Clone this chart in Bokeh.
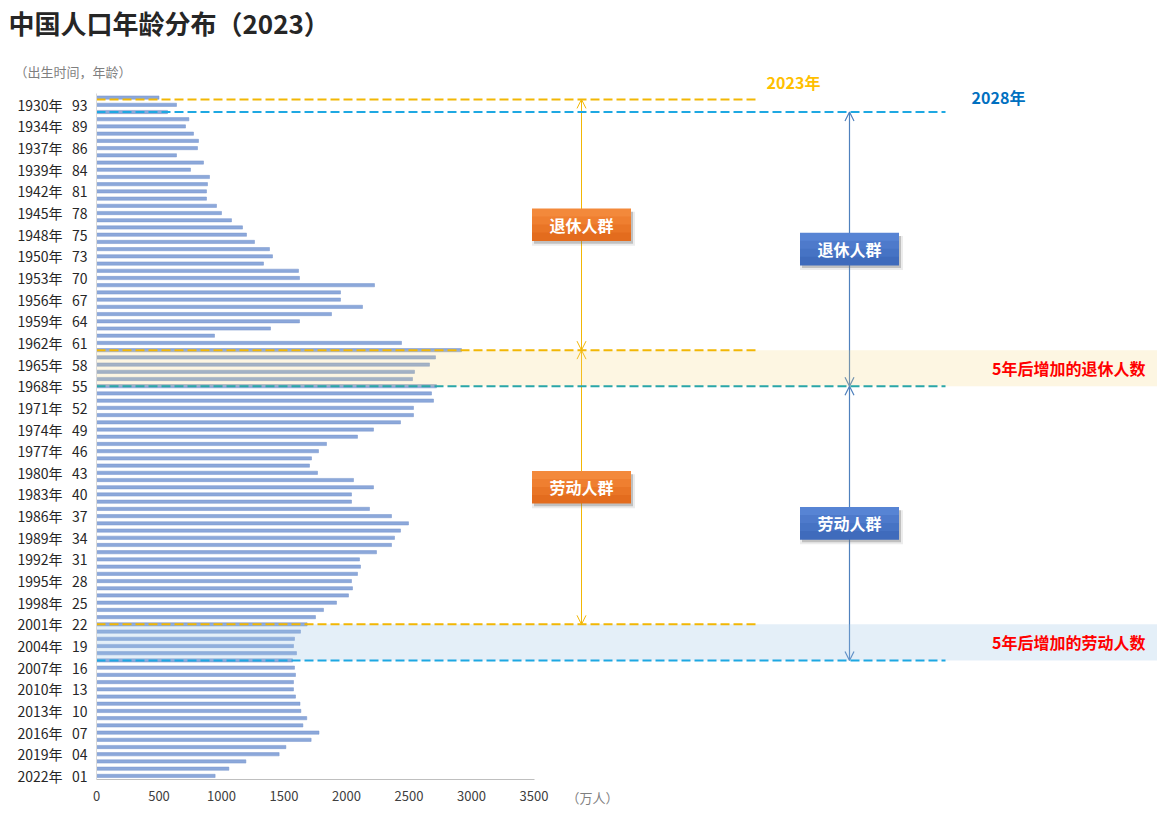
from bokeh.plotting import figure
from bokeh.models import Range1d, FixedTicker, Label, Arrow, OpenHead
from bokeh.embed import file_html
from bokeh.resources import INLINE

# ---------------- data (top bar = oldest cohort) ----------------
population = [
    500, 640, 568, 739, 712, 776, 816, 808, 640, 856,
    752, 904, 888, 880, 880, 960, 1000, 1080, 1168, 1200,
    1264, 1384, 1408, 1336, 1616, 1624, 2224, 1952, 1952, 2128,
    1880, 1624, 1392, 944, 2440, 2920, 2712, 2664, 2544, 2528,
    2720, 2680, 2696, 2536, 2536, 2432, 2216, 2088, 1840, 1776,
    1720, 1704, 1768, 2056, 2216, 2040, 2040, 2184, 2360, 2496,
    2432, 2384, 2360, 2240, 2104, 2112, 2088, 2040, 2048, 2016,
    1920, 1816, 1752, 1685, 1632, 1584, 1576, 1600, 1568, 1584,
    1592, 1576, 1576, 1592, 1628, 1635, 1682, 1651, 1780, 1717,
    1515, 1461, 1195, 1059, 949,
]
tick_years = [
    "1930年", "1934年", "1937年", "1939年", "1942年", "1945年", "1948年", "1950年",
    "1953年", "1956年", "1959年", "1962年", "1965年", "1968年", "1971年", "1974年",
    "1977年", "1980年", "1983年", "1986年", "1989年", "1992年", "1995年", "1998年",
    "2001年", "2004年", "2007年", "2010年", "2013年", "2016年", "2019年", "2022年",
]
tick_ages_text = [
    "93", "89", "86", "84", "81", "78", "75", "73", "70", "67", "64", "61", "58", "55", "52", "49",
    "46", "43", "40", "37", "34", "31", "28", "25", "22", "19", "16", "13", "10", "07", "04", "01",
]
x_ticks = [0, 500, 1000, 1500, 2000, 2500, 3000, 3500]

# age positions (bottom bar = 1)
ages = list(range(len(population), 0, -1))
tick_pos = list(range(94, 0, -3))

# group boundaries (age positions)
line_2023 = [94.75, 60, 22]
line_2028 = [93, 55, 17]

# ---------------- layout helpers ----------------
W, H = 1157, 830
AX_X = 96          # canvas px of value 0
AX_Y = 779         # canvas px of the x-axis line
UX = 8.0           # data units per px (x)
PY = 7.216         # px per data unit (y)


def dx(px):
    return (px - AX_X) * UX


def dy(py):
    return 0.5 + (AX_Y - py) / PY


FONT = "Noto Sans CJK SC"

p = figure(width=W, height=H, x_range=Range1d(dx(0), dx(W)), y_range=Range1d(dy(H), dy(0)),
           output_backend="svg", toolbar_location=None,
           min_border_left=0, min_border_right=0, min_border_top=0, min_border_bottom=0)
p.outline_line_color = None
p.xgrid.visible = False
p.ygrid.visible = False
p.background_fill_color = "white"
p.border_fill_color = "white"

# bars
p.hbar(y=ages, right=population, left=0, height=0.45,
       fill_color="#8CA8DA", line_color="#7794CC", line_width=0.5)

# bands
p.quad(left=0, right=dx(W), bottom=line_2028[1], top=line_2023[1],
       fill_color="#F5D77A", fill_alpha=0.22, line_color=None)
p.quad(left=0, right=dx(W), bottom=line_2028[2], top=line_2023[2],
       fill_color="#9DC3E6", fill_alpha=0.27, line_color=None)

# dashed lines
YEL = "#F2B705"
BLU = "#1EA8E2"
p.segment(x0=[0] * 3, x1=[dx(757)] * 3, y0=line_2023, y1=line_2023,
          line_color=YEL, line_width=2, line_dash="9 4")
p.segment(x0=[0] * 3, x1=[dx(945)] * 3, y0=line_2028, y1=line_2028,
          line_color=[BLU, "#2AA6A8", BLU], line_width=2, line_dash="9 4")

# arrows
ax1 = dx(581)
ax2 = dx(849)
for (a, b) in [(line_2023[0], line_2023[1]), (line_2023[1], line_2023[2])]:
    p.add_layout(Arrow(x_start=ax1, y_start=a, x_end=ax1, y_end=b,
                       line_color=YEL, line_width=1, level="underlay",
                       start=OpenHead(size=9, line_color=YEL, line_width=1),
                       end=OpenHead(size=9, line_color=YEL, line_width=1)))
ABL = "#4F81BD"
for (a, b) in [(line_2028[0], line_2028[1]), (line_2028[1], line_2028[2])]:
    p.add_layout(Arrow(x_start=ax2, y_start=a, x_end=ax2, y_end=b,
                       line_color=ABL, line_width=1.2, level="underlay",
                       start=OpenHead(size=9, line_color=ABL, line_width=1.2),
                       end=OpenHead(size=9, line_color=ABL, line_width=1.2)))

# boxes (graded fill in four strips, soft shadow)
ORANGE = ["#F3893B", "#EF7F30", "#E97526", "#E36C1E"]
BLUE = ["#5784D4", "#4E7ACB", "#4673C4", "#3F6BBC"]
boxes = [
    (ax1, (line_2023[0] + line_2023[1]) / 2, "退休人群", ORANGE),
    (ax1, (line_2023[1] + line_2023[2]) / 2, "劳动人群", ORANGE),
    (ax2, (line_2028[0] + line_2028[1]) / 2, "退休人群", BLUE),
    (ax2, (line_2028[1] + line_2028[2]) / 2, "劳动人群", BLUE),
]
bx = [b[0] for b in boxes]
by = [b[1] for b in boxes]
p.rect(x=[x + 2 * UX for x in bx], y=[y - 4 / PY for y in by],
       width=103, height=34, width_units="screen", height_units="screen",
       fill_color="#808080", fill_alpha=0.15, line_color=None)
p.rect(x=[x + 2 * UX for x in bx], y=[y - 3 / PY for y in by],
       width=99, height=32, width_units="screen", height_units="screen",
       fill_color="#707070", fill_alpha=0.35, line_color=None)
for k in range(4):
    off = (12 - 8 * k) / PY
    p.rect(x=bx, y=[y + off for y in by], width=99, height=8.6,
           width_units="screen", height_units="screen",
           fill_color=[b[3][k] for b in boxes], line_color=None)
for b in boxes:
    p.add_layout(Label(x=b[0], y=b[1], text=b[2], text_align="center", text_baseline="middle",
                       text_color="white", text_font=FONT, text_font_style="bold",
                       text_font_size="16px"))

# texts
p.add_layout(Label(x=dx(793), y=dy(81), text="2023年", text_align="center", text_baseline="middle",
                   text_color="#FFC000", text_font=FONT, text_font_style="bold", text_font_size="16px"))
p.add_layout(Label(x=dx(998), y=dy(96), text="2028年", text_align="center", text_baseline="middle",
                   text_color="#0070C0", text_font=FONT, text_font_style="bold", text_font_size="16px"))
p.add_layout(Label(x=dx(1145), y=(line_2023[1] + line_2028[1]) / 2, text="5年后增加的退休人数",
                   text_align="right", text_baseline="middle",
                   text_color="#FF0000", text_font=FONT, text_font_style="bold", text_font_size="16px"))
p.add_layout(Label(x=dx(1145), y=(line_2023[2] + line_2028[2]) / 2, text="5年后增加的劳动人数",
                   text_align="right", text_baseline="middle",
                   text_color="#FF0000", text_font=FONT, text_font_style="bold", text_font_size="16px"))

p.add_layout(Label(x=dx(8), y=dy(22), text="中国人口年龄分布（2023）",
                   text_align="left", text_baseline="middle", text_color="#262626", text_font=FONT,
                   text_font_style="bold", text_font_size="26px"))
p.add_layout(Label(x=dx(14), y=dy(71), text="（出生时间，年龄）",
                   text_align="left", text_baseline="middle", text_color="#7F7F7F", text_font=FONT,
                   text_font_size="13px"))
p.add_layout(Label(x=dx(566), y=dy(797), text="（万人）",
                   text_align="left", text_baseline="middle", text_color="#7F7F7F", text_font=FONT,
                   text_font_size="13px"))

# axes (drawn at fixed data locations inside the full-canvas frame)
xa = p.xaxis[0]
xa.fixed_location = 0.5
xa.ticker = FixedTicker(ticks=x_ticks)
xa.bounds = (0, 3500)
xa.axis_line_color = "#BFBFBF"
xa.major_tick_line_color = None
xa.minor_tick_line_color = None
xa.major_tick_out = 0
xa.major_label_standoff = 11
xa.major_label_text_font = FONT
xa.major_label_text_font_size = "13px"
xa.major_label_text_color = "#404040"

ya = p.yaxis[0]
ya.fixed_location = 0
ya.ticker = FixedTicker(ticks=tick_pos)
ya.major_label_overrides = {pos: y + "\u00a0\u00a0\u00a0" + a
                            for pos, y, a in zip(tick_pos, tick_years, tick_ages_text)}
ya.bounds = (0.5, 95.5)
ya.axis_line_color = "#D9D9D9"
ya.major_tick_line_color = None
ya.minor_tick_line_color = None
ya.major_tick_out = 0
ya.major_label_standoff = 9
ya.major_label_text_font = FONT
ya.major_label_text_font_size = "14px"
ya.major_label_text_color = "#262626"

open("out.html", "w").write(file_html(p, INLINE))
